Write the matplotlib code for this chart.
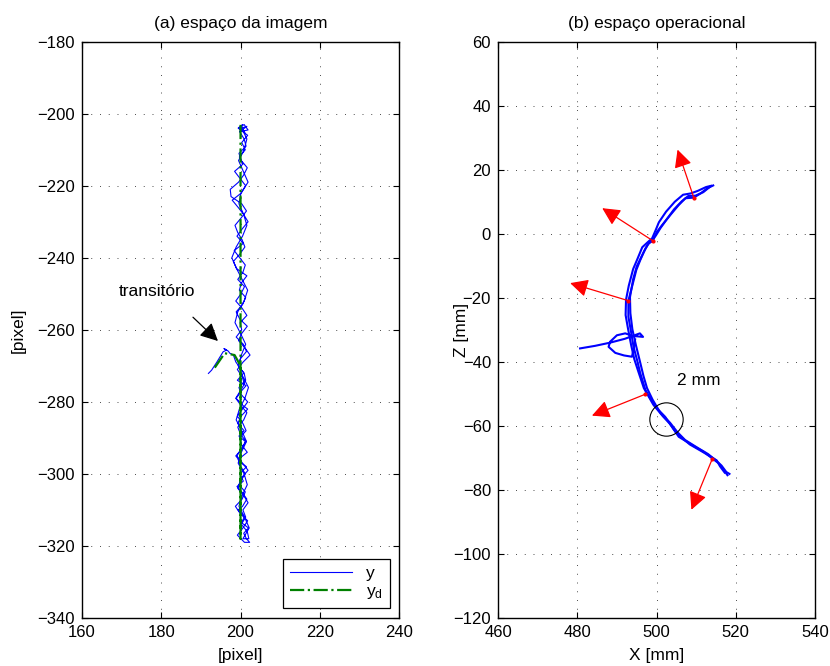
import matplotlib
matplotlib.use('Agg')
import matplotlib.pyplot as plt
import numpy as np

plt.rcParams['font.family'] = ['Liberation Sans', 'DejaVu Sans']
plt.rcParams['font.size'] = 12

# ---- (a) image space: measured feature trajectory y and desired y_d ----
trans_a_x = [191.9, 192.7, 194.0, 195.6, 196.5, 195.8, 196.9, 197.3, 198.2, 198.8, 199.5]
trans_a_y = [-272.1, -271.2, -269.0, -266.1, -265.6, -265.2, -265.9, -266.5, -267.0, -268.9, -270.0]

pass1_x = [199.5, 200.8, 199.2, 201.4, 200.2, 198.9, 200.6, 201.8, 200.1, 199.3,
           200.9, 199.6, 201.2, 200.4, 198.8, 200.2, 201.5, 199.8, 200.7, 199.1,
           200.3, 201.6, 200.5, 199.4, 201.0, 200.2, 202.0, 200.8, 201.5, 202.3]
pass1_y = [-270, -272, -274, -275.5, -277, -279, -281, -282, -284, -286,
           -288, -289.5, -291, -293, -295, -297, -298, -300, -302, -303.5,
           -305, -307, -309, -310, -312, -313.5, -315, -316.5, -318, -319]

pass2_x = [201.0, 199.2, 200.6, 201.8, 199.9, 198.7, 200.4, 201.2, 199.6, 200.3,
           201.9, 200.5, 199.1, 200.2, 201.4, 200.0, 199.3, 200.8, 201.6, 200.1,
           198.8, 199.9, 201.0, 200.4, 199.2, 200.6, 202.4, 201.1, 199.5, 200.3,
           201.7, 199.8, 198.9, 200.5, 201.3, 199.7, 200.2, 201.6, 199.0, 198.2,
           199.8, 201.1, 200.4, 199.3, 198.6, 200.1, 201.5, 200.3, 197.6, 197.4,
           199.5, 200.8, 201.7, 200.2, 199.6, 201.4, 200.9, 199.8, 200.5]
pass2_y = [-319, -317, -315, -313, -311, -309, -307, -305, -303, -301,
           -299, -297, -295, -293, -291, -289, -287, -285, -283, -281,
           -279, -277, -275, -273, -271, -269, -267, -265, -263, -261,
           -259, -257, -255, -253, -251, -249, -247, -245, -243, -241,
           -239, -237, -235, -233, -231, -229, -227, -225, -223, -221,
           -219, -217, -215, -213, -211, -209, -207, -205, -203]

pass3_x = [199.4, 201.8, 200.3, 201.2, 199.7, 200.6, 198.5, 199.9, 201.3, 200.2,
           197.9, 199.4, 200.8, 201.9, 200.4, 199.1, 200.7, 198.4, 199.8, 201.2,
           200.6, 199.3, 201.0, 200.1, 198.8, 200.4, 201.6, 199.9, 200.3, 198.9,
           200.7, 201.5, 200.0, 199.4, 200.9, 201.3, 199.6, 200.2, 201.8, 200.5,
           199.2, 200.6, 201.4, 199.8, 200.3, 201.7, 199.4, 200.1, 201.2, 200.0,
           199.3, 200.8, 201.9, 200.6, 201.3, 200.2, 201.7, 202.1]
pass3_y = [-204, -206, -208, -210, -212, -214, -216, -218, -220, -222,
           -224, -226, -228, -230, -232, -234, -236, -238, -240, -242,
           -244, -246, -248, -250, -252, -254, -256, -258, -260, -262,
           -264, -266, -268, -270, -272, -274, -276, -278, -280, -282,
           -284, -286, -288, -290, -292, -294, -296, -298, -300, -302,
           -304, -306, -308, -310, -312, -314, -316, -318]

pass4_x = [200.6, 202.2, 201.0, 199.6, 200.4, 201.7, 200.9, 199.4, 200.2, 201.5,
           200.3, 198.9, 199.7, 201.1, 202.0, 200.6, 199.5, 200.2, 201.3, 200.0,
           198.6, 199.3, 200.9, 201.8, 200.4, 199.0, 197.8, 198.9, 200.5, 201.6,
           200.8, 199.6, 200.1, 201.9, 200.7, 199.5, 200.9, 201.6, 200.3]
pass4_y = [-318, -315, -312, -309, -306, -303, -300, -297, -294, -291,
           -288, -285, -282, -279, -276, -273, -270, -267, -264, -261,
           -258, -255, -252, -249, -246, -243, -240, -237, -234, -231,
           -228, -225, -222, -219, -216, -213, -210, -207, -204]

# short jitter cluster at the top end
top_x = [200.3, 201.6, 199.8, 201.9, 200.9, 199.6, 201.2, 200.4]
top_y = [-204, -203.5, -205, -204.5, -203, -204, -205.5, -204]

yd_x = [193.5, 196.0, 198.5, 200.0, 200.0, 200.0]
yd_y = [-270.5, -266.5, -267.0, -270.0, -318.0, -203.0]

# ---- (b) operational space: end-effector path X-Z [mm] ----
trans_b_x = [480.7, 484.5, 488.3, 492.0, 495.8, 496.6, 494.0, 492.1, 490.0, 488.3,
             487.9, 489.6, 491.8, 493.8, 494.3, 494.6]
trans_b_z = [-35.8, -35.0, -34.0, -32.8, -31.1, -32.2, -31.9, -31.1, -31.7, -33.7,
             -35.3, -37.2, -38.0, -38.4, -35.5, -33.0]

strand1_x = [514.3, 512.8, 511.1, 509.4, 507.3, 505.6, 503.5, 501.4, 500.1, 499.1,
             498.0, 497.2, 495.9, 494.9, 493.8, 492.9, 492.9, 493.5, 494.2, 495.1,
             495.9, 497.2, 499.7, 502.2, 503.9, 505.6, 509.0, 511.9, 514.1, 515.7,
             517.0, 517.9]
strand1_z = [15.1, 14.2, 12.6, 11.3, 11.1, 9.0, 5.9, 2.7, 0.6, -2.2,
             -3.0, -4.6, -8.2, -11.3, -16.6, -20.9, -25.9, -30.1, -35.3, -39.5,
             -43.6, -48.8, -54.0, -57.2, -60.3, -63.4, -66.0, -68.1, -70.2, -71.7,
             -73.8, -75.4]

strand2_x = [517.2, 516.0, 515.2, 513.4, 511.2, 508.4, 505.0, 503.4, 501.6, 499.2,
             496.8, 495.4, 494.4, 493.6, 492.8, 492.2, 492.3, 493.0, 494.1, 495.2,
             496.4, 497.8, 498.9, 499.8, 500.6, 502.4, 504.6, 506.7, 508.6, 510.4,
             512.5, 513.8]
strand2_z = [-74.6, -72.6, -70.8, -69.4, -67.8, -65.8, -62.2, -59.4, -57.0, -53.4,
             -48.2, -43.0, -39.2, -34.8, -29.6, -25.4, -20.6, -16.2, -11.0, -7.8,
             -4.2, -2.6, -1.4, 1.2, 3.6, 6.9, 10.0, 12.2, 12.6, 13.4,
             14.6, 15.0]

strand3_x = [513.6, 511.8, 509.8, 508.0, 506.4, 504.4, 502.5, 501.0, 499.8, 498.6,
             497.8, 496.8, 495.0, 494.1, 493.3, 493.4, 493.9, 494.8, 495.8, 496.7,
             497.6, 499.0, 501.0, 503.4, 505.3, 507.2, 510.3, 513.0, 515.0, 516.4,
             517.6, 518.4]
strand3_z = [14.8, 13.0, 11.9, 11.8, 10.2, 7.6, 4.4, 1.8, -0.6, -2.2,
             -3.4, -5.6, -10.2, -14.2, -19.8, -24.8, -29.8, -34.8, -39.8, -44.4,
             -48.2, -51.8, -56.0, -59.0, -62.0, -64.4, -66.8, -68.8, -70.8, -72.4,
             -74.4, -75.0]

# direction arrows (base on path -> tip)
arrow_base_x = [509.4, 499.1, 492.9, 497.2, 514.1]
arrow_base_z = [11.3, -2.2, -20.9, -50.1, -70.2]
arrow_tip_x = [505.3, 486.3, 478.2, 483.7, 508.8]
arrow_tip_z = [26.3, 8.0, -15.4, -56.8, -86.2]

circle_x, circle_z = 502.4, -57.9


def matlab_axes(ax):
    ax.tick_params(direction='in', length=4, top=True, right=True, labelsize=12, pad=5)
    ax.grid(True, linestyle=(0, (1, 8)), color='k', linewidth=0.7, alpha=0.7)
    for s in ax.spines.values():
        s.set_linewidth(1.0)


fig = plt.figure(figsize=(8.3, 6.66), dpi=100)
ax1 = fig.add_axes([0.0988, 0.0721, 0.382, 0.8653])
ax2 = fig.add_axes([0.6, 0.0721, 0.382, 0.8653])

# (a)
yx = trans_a_x + pass1_x + pass2_x + pass3_x + pass4_x + top_x
yy = trans_a_y + pass1_y + pass2_y + pass3_y + pass4_y + top_y
ax1.plot(yx, yy, color='b', lw=0.8, label='y')
ax1.plot(yd_x, yd_y, color=(0, 0.5, 0), lw=1.6, linestyle='-.', label=r'$\mathregular{y_d}$')
ax1.set_xlim(160, 240)
ax1.set_ylim(-340, -180)
ax1.set_xticks(np.arange(160, 241, 20))
ax1.set_yticks(np.arange(-340, -179, 20))
ax1.set_title('(a) espaço da imagem', fontsize=12.5, pad=10)
ax1.set_xlabel('[pixel]', fontsize=12.5)
ax1.set_ylabel('[pixel]', fontsize=12.5)
ax1.xaxis.set_label_coords(0.5, -0.052)
ax1.yaxis.set_label_coords(-0.177, 0.5)
ax1.annotate('', xy=(194.3, -263.1), xytext=(188.0, -256.5),
             arrowprops=dict(arrowstyle='-|>,head_length=0.9,head_width=0.45',
                             color='k', lw=0.9, shrinkA=0, shrinkB=0))
ax1.text(178.9, -249.3, 'transitório', ha='center', va='center', fontsize=12.5)
leg = ax1.legend(loc='lower right', bbox_to_anchor=(0.972, 0.017), borderaxespad=0,
                 fancybox=False, edgecolor='k', framealpha=1, handlelength=3.6,
                 fontsize=12.5, borderpad=0.4, labelspacing=0.2)
leg.get_frame().set_linewidth(0.9)
matlab_axes(ax1)

# (b)
ax2.plot(trans_b_x, trans_b_z, color='b', lw=1.5)
ax2.plot(strand1_x, strand1_z, color='b', lw=1.5)
ax2.plot(strand2_x, strand2_z, color='b', lw=1.5)
ax2.plot(strand3_x, strand3_z, color='b', lw=1.5)
for bx, bz, tx, tz in zip(arrow_base_x, arrow_base_z, arrow_tip_x, arrow_tip_z):
    ax2.annotate('', xy=(tx, tz), xytext=(bx, bz),
                 arrowprops=dict(arrowstyle='-|>,head_length=0.9,head_width=0.45',
                                 color='r', lw=0.9, shrinkA=0, shrinkB=0))
ax2.plot(arrow_base_x, arrow_base_z, 'r.', ms=4)
ax2.plot(circle_x, circle_z, 'o', ms=24, mfc='none', mec='k', mew=0.8)
ax2.text(505.2, -45.7, '2 mm', ha='left', va='center', fontsize=12.5)
ax2.set_xlim(460, 540)
ax2.set_ylim(-120, 60)
ax2.set_xticks(np.arange(460, 541, 20))
ax2.set_yticks(np.arange(-120, 61, 20))
ax2.set_title('(b) espaço operacional', fontsize=12.5, pad=10)
ax2.set_xlabel('X [mm]', fontsize=12.5)
ax2.set_ylabel('Z [mm]', fontsize=12.5)
ax2.xaxis.set_label_coords(0.5, -0.052)
ax2.yaxis.set_label_coords(-0.091, 0.5)
matlab_axes(ax2)

fig.savefig('out.png', dpi=100)
